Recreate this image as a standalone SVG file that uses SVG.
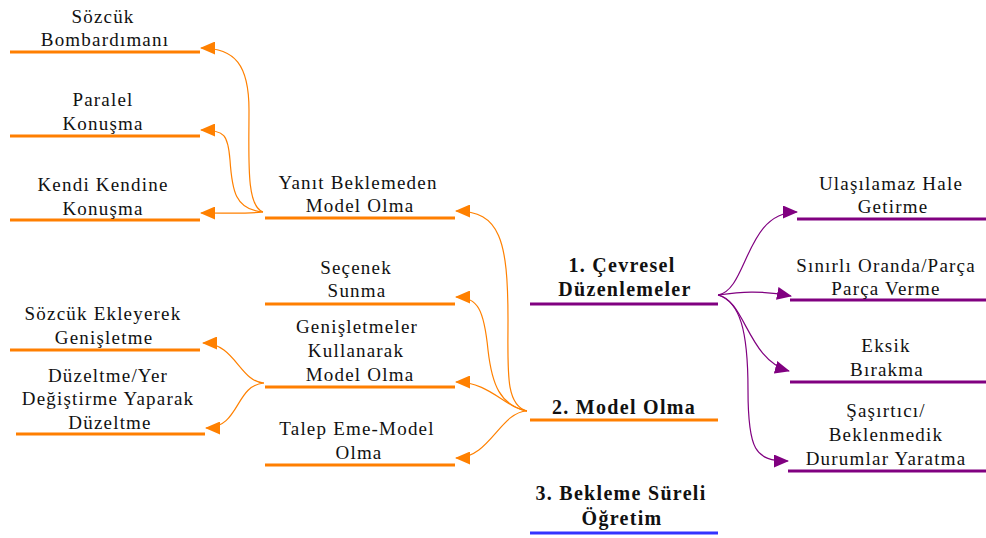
<svg xmlns="http://www.w3.org/2000/svg" width="986" height="538" viewBox="0 0 986 538">
<style>
text{font-family:"Liberation Serif","Times New Roman",serif;font-size:19px;letter-spacing:1.2px;fill:#111;text-anchor:middle}
.b{font-weight:bold;font-size:20px;letter-spacing:1.3px}
.lo{stroke:#ff7f00;stroke-width:3}
.lp{stroke:#800080;stroke-width:3}
.lb{stroke:#3333ff;stroke-width:3}
.co{fill:none;stroke:#ff8000;stroke-width:1.2}
.cp{fill:none;stroke:#800080;stroke-width:1.2}
</style>
<defs>
<marker id="ao" markerWidth="15" markerHeight="13" refX="14" refY="6.5" orient="auto" markerUnits="userSpaceOnUse"><path d="M0,0 L15,6.5 L0,13 z" fill="#ff8000"/></marker>
<marker id="ap" markerWidth="15" markerHeight="13" refX="14" refY="6.5" orient="auto" markerUnits="userSpaceOnUse"><path d="M0,0 L15,6.5 L0,13 z" fill="#800080"/></marker>
</defs>
<rect width="986" height="538" fill="#fff"/>
<g id="connectors">
<path class="co" marker-end="url(#ao)" d="M263,212 C246,206 249,160 249,110 C249,65 235,48 201,48"/>
<path class="co" marker-end="url(#ao)" d="M263,212 C235,210 232,190 230,160 C228,135 225,130 201,130"/>
<path class="co" marker-end="url(#ao)" d="M263,212 C245,214 230,213 201,213"/>
<path class="co" marker-end="url(#ao)" d="M527,411 C505,405 508,370 508,320 C508,240 500,211 456,211"/>
<path class="co" marker-end="url(#ao)" d="M527,411 C500,405 492,385 488,350 C484,310 478,297 456,297"/>
<path class="co" marker-end="url(#ao)" d="M527,411 C505,408 490,382 456,382"/>
<path class="co" marker-end="url(#ao)" d="M527,411 C500,412 490,458 456,458"/>
<path class="co" marker-end="url(#ao)" d="M264,383 C240,382 235,343 203,343"/>
<path class="co" marker-end="url(#ao)" d="M264,383 C235,385 240,428 206,428"/>
<path class="cp" marker-end="url(#ap)" d="M718,295 C748,290 745,212 797,212"/>
<path class="cp" marker-end="url(#ap)" d="M718,295 C740,292 760,290 791,296"/>
<path class="cp" marker-end="url(#ap)" d="M718,295 C745,300 748,360 789,371"/>
<path class="cp" marker-end="url(#ap)" d="M718,295 C740,302 748,330 748,390 C748,450 755,461 788,461"/>
</g>
<g id="n-sozcuk-bombardimani"><line class="lo" x1="10" y1="52" x2="200" y2="52"/><text x="103" y="23">Sözcük</text><text x="105" y="46">Bombardımanı</text></g>
<g id="n-paralel"><line class="lo" x1="10" y1="136" x2="200" y2="136"/><text x="103" y="106">Paralel</text><text x="103" y="130">Konuşma</text></g>
<g id="n-kendi"><line class="lo" x1="10" y1="220" x2="200" y2="220"/><text x="103" y="191">Kendi Kendine</text><text x="103" y="215">Konuşma</text></g>
<g id="n-sozcuk-ekleyerek"><line class="lo" x1="10" y1="350" x2="200" y2="350"/><text x="103" y="320">Sözcük Ekleyerek</text><text x="104" y="344">Genişletme</text></g>
<g id="n-duzeltme"><line class="lo" x1="16" y1="434" x2="205" y2="434"/><text x="108" y="382">Düzeltme/Yer</text><text x="108" y="405">Değiştirme Yaparak</text><text x="110" y="429">Düzeltme</text></g>
<g id="n-yanit"><line class="lo" x1="265" y1="218" x2="455" y2="218"/><text x="358" y="189">Yanıt Beklemeden</text><text x="360" y="212">Model Olma</text></g>
<g id="n-secenek"><line class="lo" x1="265" y1="304" x2="455" y2="304"/><text x="356" y="274">Seçenek</text><text x="357" y="297">Sunma</text></g>
<g id="n-genisletmeler"><line class="lo" x1="265" y1="387" x2="455" y2="387"/><text x="357" y="333">Genişletmeler</text><text x="356" y="357">Kullanarak</text><text x="360" y="381">Model Olma</text></g>
<g id="n-talep"><line class="lo" x1="265" y1="465" x2="455" y2="465"/><text x="357" y="435">Talep Eme-Model</text><text x="359" y="459">Olma</text></g>
<g id="n-cevresel"><line class="lp" x1="530" y1="304" x2="718" y2="304"/><text class="b" x="622" y="272">1. Çevresel</text><text class="b" x="625" y="296">Düzenlemeler</text></g>
<g id="n-model"><line class="lo" x1="530" y1="420" x2="718" y2="420"/><text class="b" x="624" y="414">2. Model Olma</text></g>
<g id="n-bekleme"><line class="lb" x1="530" y1="533" x2="718" y2="533"/><text class="b" x="621" y="500">3. Bekleme Süreli</text><text class="b" x="622" y="525">Öğretim</text></g>
<g id="n-ulasilamaz"><line class="lp" x1="797" y1="219" x2="986" y2="219"/><text x="891" y="190">Ulaşılamaz Hale</text><text x="893" y="213">Getirme</text></g>
<g id="n-sinirli"><line class="lp" x1="790" y1="300" x2="986" y2="300"/><text x="886" y="272">Sınırlı Oranda/Parça</text><text x="886" y="295">Parça Verme</text></g>
<g id="n-eksik"><line class="lp" x1="790" y1="382" x2="986" y2="382"/><text x="886" y="352">Eksik</text><text x="887" y="376">Bırakma</text></g>
<g id="n-sasirtici"><line class="lp" x1="788" y1="471" x2="986" y2="471"/><text x="886" y="417">Şaşırtıcı/</text><text x="886" y="441">Beklenmedik</text><text x="886" y="465">Durumlar Yaratma</text></g>
</svg>
